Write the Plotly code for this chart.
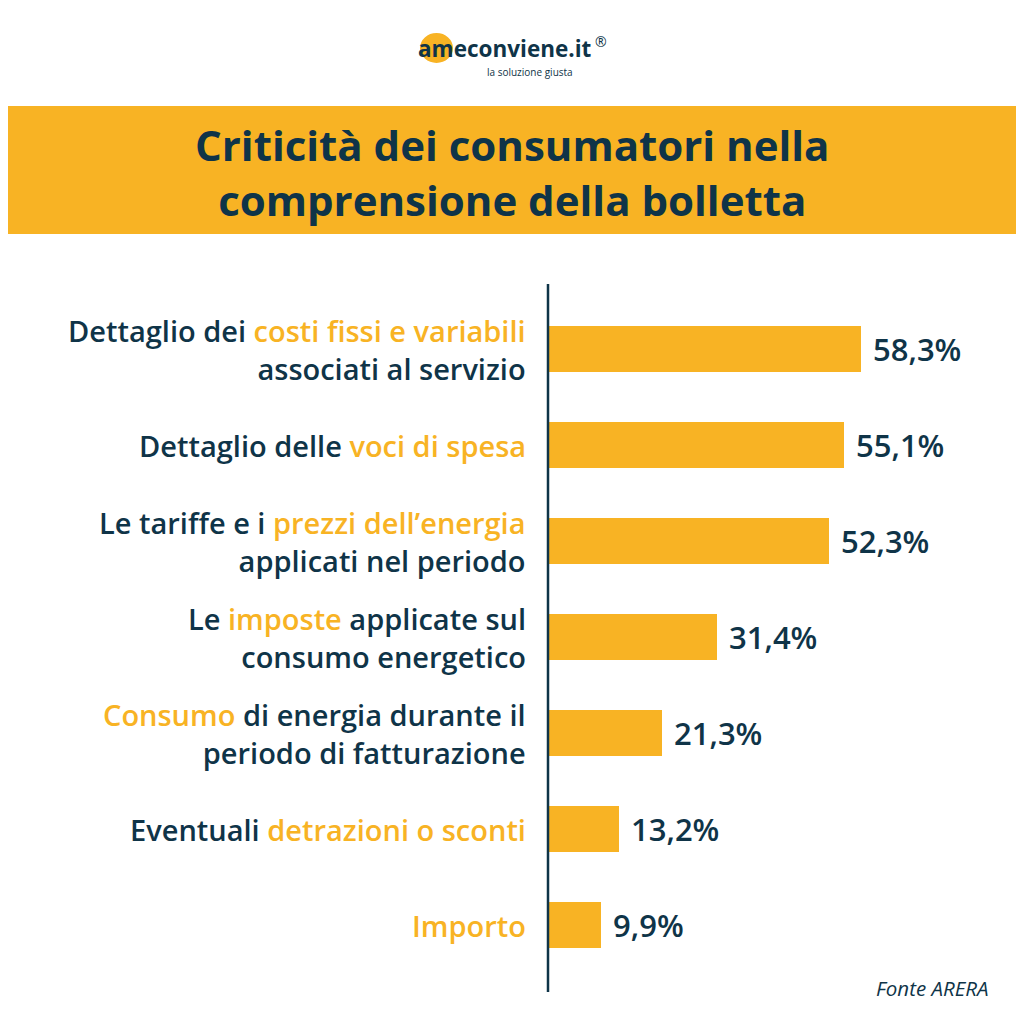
import plotly.graph_objects as go

categories = [
    "Dettaglio dei <span style='color:#F8B324'>costi fissi e variabili</span><br>associati al servizio",
    "Dettaglio delle <span style='color:#F8B324'>voci di spesa</span>",
    "Le tariffe e i <span style='color:#F8B324'>prezzi dell’energia</span><br>applicati nel periodo",
    "Le <span style='color:#F8B324'>imposte</span> applicate sul<br>consumo energetico",
    "<span style='color:#F8B324'>Consumo</span> di energia durante il<br>periodo di fatturazione",
    "Eventuali <span style='color:#F8B324'>detrazioni o sconti</span>",
    "<span style='color:#F8B324'>Importo</span>",
]
values = [58.3, 55.1, 52.3, 31.4, 21.3, 13.2, 9.9]
value_labels = ["58,3%", "55,1%", "52,3%", "31,4%", "21,3%", "13,2%", "9,9%"]

NAVY = "#0F3448"
YELLOW = "#F8B324"
FONT = "Open Sans"

O = 8  # page body margin offset
W, H = 1024 - O, 1024 - O
L, R, T, B = 548 - O, 1024 - O, 284 - O, 992 - O
pw, ph = R - L, B - T


def px(x):
    return (x - O - L) / pw


def py(y):
    return (B - (y - O)) / ph


ypos = list(range(len(values)))

fig = go.Figure()
fig.add_trace(go.Bar(
    x=values, y=ypos, orientation="h",
    marker=dict(color=YELLOW, line=dict(width=0)),
    width=0.48, hoverinfo="skip",
))

annotations = []
for i, (c, v, t) in enumerate(zip(categories, values, value_labels)):
    annotations.append(dict(
        x=0, y=i, xref="x", yref="y", text=c, showarrow=False,
        xanchor="right", yanchor="middle", align="right", xshift=-20,
        font=dict(family=FONT, size=29, color=NAVY, weight=600),
    ))
    annotations.append(dict(
        x=v, y=i, xref="x", yref="y", text=t, showarrow=False,
        xanchor="left", yanchor="middle", xshift=10,
        font=dict(family=FONT, size=31, color=NAVY, weight=600),
    ))

# title
annotations.append(dict(
    x=px(512), y=py(172), xref="paper", yref="paper",
    text="Criticità dei consumatori nella<br>comprensione della bolletta",
    showarrow=False, xanchor="center", yanchor="middle", align="center",
    font=dict(family=FONT, size=42, color=NAVY, weight=700),
))
# logo
annotations.append(dict(
    x=px(416), y=py(49), xref="paper", yref="paper", text="<b>ameconviene.it</b>",
    showarrow=False, xanchor="left", yanchor="middle",
    font=dict(family=FONT, size=22.5, color=NAVY),
))
annotations.append(dict(
    x=px(601), y=py(41), xref="paper", yref="paper", text="®",
    showarrow=False, xanchor="center", yanchor="middle",
    font=dict(family=FONT, size=14, color=NAVY),
))
annotations.append(dict(
    x=px(485), y=py(72), xref="paper", yref="paper", text="la soluzione giusta",
    showarrow=False, xanchor="left", yanchor="middle",
    font=dict(family=FONT, size=10, color=NAVY),
))
# source
annotations.append(dict(
    x=px(990), y=py(988), xref="paper", yref="paper", text="<i>Fonte ARERA</i>",
    showarrow=False, xanchor="right", yanchor="middle",
    font=dict(family=FONT, size=20.5, color=NAVY),
))

shapes = [
    dict(type="rect", xref="paper", yref="paper", x0=px(0), x1=px(1030), y0=py(234), y1=py(106),
         fillcolor=YELLOW, line=dict(width=0), layer="below"),
    dict(type="circle", xref="paper", yref="paper", x0=px(420), x1=px(453), y0=py(63), y1=py(33),
         fillcolor=YELLOW, line=dict(width=0), layer="below"),
    dict(type="line", xref="paper", yref="paper", x0=0, x1=0, y0=0, y1=1,
         line=dict(color=NAVY, width=2.5)),
]

fig.update_layout(
    width=W, height=H,
    margin=dict(l=L, r=W - R, t=T, b=H - B, pad=0),
    paper_bgcolor="white", plot_bgcolor="white",
    showlegend=False,
    xaxis=dict(range=[0, pw / 5.37], visible=False, fixedrange=True),
    yaxis=dict(range=[6 + (992 - 925) / 96, -(349 - 284) / 96], visible=False, fixedrange=True),
    annotations=annotations, shapes=shapes,
    bargap=0,
)

fig.write_html("out.html", config={"displayModeBar": False})
